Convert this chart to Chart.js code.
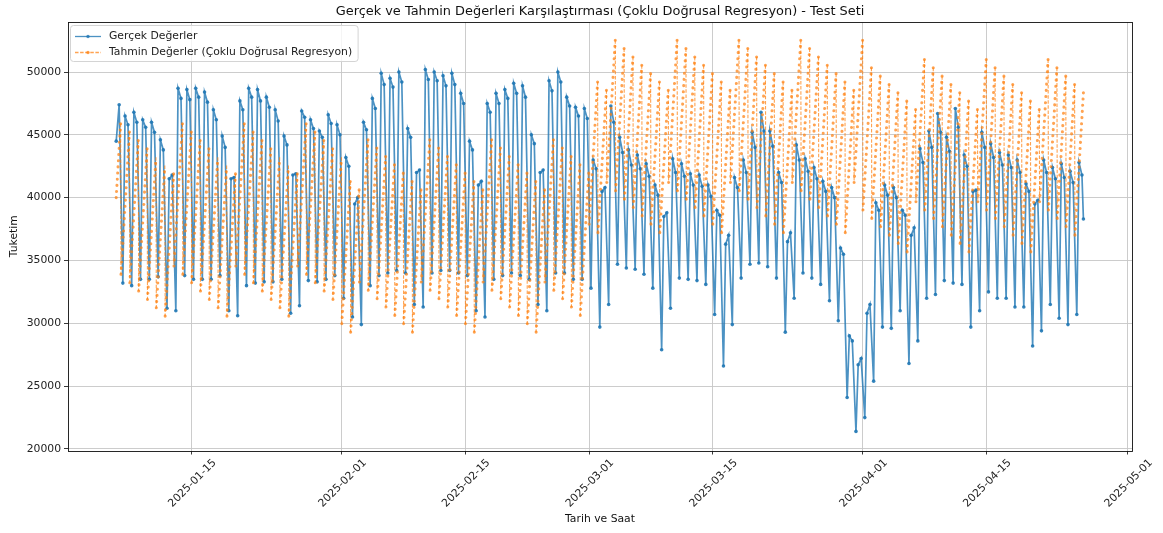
<!DOCTYPE html>
<html lang="tr">
<head>
<meta charset="utf-8">
<title>Gerçek ve Tahmin Değerleri</title>
<script src="https://cdn.jsdelivr.net/npm/chart.js@4.4.1/dist/chart.umd.min.js"></script>
<style>
    html, body { margin: 0; padding: 0; background: #fff; }
    canvas { display: block; }
</style>
</head>
<body>
<canvas id="tuketim_chart" width="1163" height="533"></canvas>
<script>
// test period: 2025-01-06 11:00 .. 2025-04-25 23:00, one row per day
const firstDay = '2025-01-06';
const firstHour = 11;
const lowHour = 5, middayHour = 11, eveningHour = 19;

// actual consumption: early-morning low, midday level, evening level
const actualNightLow = [
    null, 33200, 33000, 33500, 33500, 33700, 31200,
    31000, 33800, 33500, 33500, 33500, 33800, 31000,
    30600, 33000, 33200, 33300, 33300, 33500, 30800,
    31400, 33400, 33300, 33500, 33800, 32000, 30500,
    29900, 33000, 33800, 34000, 34200, 34000, 31500,
    31300, 34000, 34200, 34200, 34000, 33800, 31000,
    30500, 33500, 33800, 34000, 33800, 33500, 31500,
    31000, 34000, 34000, 33500, 33500, 32800, 29700,
    31500, 34700, 34400, 34300, 33900, 32800, 27900,
    31200, 33600, 33500, 33400, 33100, 30700, 26600,
    29900, 33600, 34700, 34800, 34500, 33600, 29300,
    32000, 34000, 33600, 33100, 31800, 30200, 24100,
    21400, 22500, 25400, 29700, 29600, 31000, 26800,
    28600, 32000, 32300, 33400, 33200, 33100, 29700,
    31000, 32500, 32000, 32000, 31300, 31300, 28200,
    29400, 31500, 30400, 29900, 30700
];
const actualMidday = [
    44500, 46500, 46800, 46200, 46000, 44600, 41500,
    48700, 48600, 48700, 48400, 47000, 44900, 41500,
    47700, 48700, 48600, 48000, 47000, 44900, 41800,
    46900, 46200, 45300, 46600, 45800, 43200, 39500,
    46000, 47900, 49900, 49500, 50000, 45500, 42000,
    50200, 50000, 49700, 49900, 48300, 44500, 41000,
    47500, 48300, 48600, 49100, 48900, 45000, 42000,
    49300, 50000, 48000, 47200, 47100, 43000, 40500,
    47300, 44800, 43800, 43400, 42700, 41000, 38500,
    43100, 42700, 41900, 41800, 41000, 39000, 36300,
    41600, 43000, 45200, 46800, 45300, 42000, 36500,
    44200, 43100, 42400, 41300, 40800, 36000, 29000,
    26700, 30800, 39600, 41000, 40800, 39000, 37000,
    43900, 45300, 46700, 44800, 47100, 43400, 40500,
    45200, 44300, 43600, 43400, 43000, 41100, 39500,
    43000, 42400, 42700, 42100, 42800
];
const actualEvening = [
    47400, 45800, 46000, 45600, 45200, 43800, 41800,
    47900, 47800, 48000, 47600, 46200, 44000, 41600,
    47000, 48000, 47700, 47200, 46100, 44200, 41900,
    46400, 45500, 44800, 45900, 45000, 42500, 40000,
    45400, 47100, 49000, 48800, 49200, 44800, 42200,
    49400, 49300, 48900, 49000, 47500, 43800, 41300,
    46800, 47500, 47900, 48300, 48000, 44300, 42200,
    48500, 49200, 47300, 46500, 46300, 42300, 40800,
    46000, 43600, 42600, 42300, 41700, 40200, 38800,
    42000, 41700, 41000, 40900, 40100, 38600, 37000,
    40800, 42000, 44000, 45300, 44100, 41200, 37200,
    43000, 42100, 41500, 40500, 40000, 35500, 28600,
    27200, 31500, 39000, 40200, 40000, 38600, 37600,
    42800, 44000, 45200, 43700, 45600, 42500, 40600,
    44000, 43200, 42600, 42400, 42000, 40500, 39800,
    42000, 41500, 41600, 41200, 41800
];
const actualLastValue = 38300;

// regression output: value at 00:00 and at 23:00 of every day
const forecastDayStart = [
    40000, 33900, 33230, 32570, 31900, 31240, 30570,
    34560, 33900, 33230, 32570, 31900, 31240, 30570,
    34560, 33900, 33230, 32570, 31900, 31240, 30570,
    34560, 33900, 33230, 32570, 31900, 29970, 29300,
    33290, 32630, 31960, 31300, 30630, 29970, 29300,
    33290, 32630, 31960, 31300, 30630, 29970, 29300,
    33290, 32630, 31960, 31300, 30630, 29970, 29300,
    33290, 32630, 31960, 31300, 30630, 37890, 37220,
    41210, 40550, 39880, 39220, 38550, 37890, 37220,
    41210, 40550, 39880, 39220, 38550, 37890, 37220,
    41210, 40550, 39880, 39220, 38550, 37890, 37220,
    41210, 40550, 39880, 39220, 38550, 37890, 37220,
    41210, 39020, 38350, 37690, 37020, 36360, 35690,
    39680, 39020, 38350, 37690, 37020, 36360, 35690,
    39680, 39020, 38350, 37690, 37020, 36360, 35690,
    39680, 39020, 38350, 37690, 37020
];
const forecastDayEnd = [
    45880, 45220, 44550, 43890, 43220, 42560, 41890,
    45880, 45220, 44550, 43890, 43220, 42560, 41890,
    45880, 45220, 44550, 43890, 43220, 42560, 41890,
    45880, 45220, 44550, 43890, 43220, 41290, 40620,
    44610, 43950, 43280, 42620, 41950, 41290, 40620,
    44610, 43950, 43280, 42620, 41950, 41290, 40620,
    44610, 43950, 43280, 42620, 41950, 41290, 40620,
    44610, 43950, 43280, 42620, 41950, 49210, 48540,
    52530, 51870, 51200, 50540, 49870, 49210, 48540,
    52530, 51870, 51200, 50540, 49870, 49210, 48540,
    52530, 51870, 51200, 50540, 49870, 49210, 48540,
    52530, 51870, 51200, 50540, 49870, 49210, 48540,
    52530, 50340, 49670, 49010, 48340, 47680, 47010,
    51000, 50340, 49670, 49010, 48340, 47680, 47010,
    51000, 50340, 49670, 49010, 48340, 47680, 47010,
    51000, 50340, 49670, 49010, 48340
];

const xTickLabels = ['2025-01-15', '2025-02-01', '2025-02-15', '2025-03-01',
    '2025-03-15', '2025-04-01', '2025-04-15', '2025-05-01'];
const yTickValues = [20000, 25000, 30000, 35000, 40000, 45000, 50000];

const HOUR = 3600 * 1000;
const dayZero = Date.parse(firstDay + 'T00:00:00Z');
const at = (day, hour) => dayZero + (day * 24 + hour) * HOUR;

const actualPoints = [];
const forecastPoints = [];
for (let d = 0; d < actualMidday.length; d++) {
    if (actualNightLow[d] !== null) {
        actualPoints.push({x: at(d, lowHour), y: actualNightLow[d]});
    }
    actualPoints.push({x: at(d, d === 0 ? firstHour : middayHour), y: actualMidday[d]});
    actualPoints.push({x: at(d, eveningHour), y: actualEvening[d]});

    forecastPoints.push({x: at(d, d === 0 ? firstHour : 0), y: forecastDayStart[d]});
    forecastPoints.push({x: at(d, 23), y: forecastDayEnd[d]});
}
actualPoints.push({x: at(actualMidday.length - 1, 23), y: actualLastValue});

const FONT = "'DejaVu Sans', 'Liberation Sans', sans-serif";
const BLUE = 'rgba(31, 119, 180, 0.8)';
const ORANGE = 'rgba(255, 127, 14, 0.72)';

// within a day the forecast climbs hour by hour: one dot per hour along the ramp
const isRamp = ctx => ctx.p1.parsed.x - ctx.p0.parsed.x > 2 * HOUR;
const rampDash = ctx => {
    const hours = Math.round((ctx.p1.parsed.x - ctx.p0.parsed.x) / HOUR);
    const len = Math.hypot(ctx.p1.x - ctx.p0.x, ctx.p1.y - ctx.p0.y);
    return [0.01, len / hours - 0.01];
};

const decor = {
    id: 'decor',
    beforeDraw(chart) {
        const ctx = chart.ctx;
        ctx.save();
        ctx.fillStyle = '#fff';
        ctx.fillRect(0, 0, chart.width, chart.height);
        ctx.restore();
    },
    afterDraw(chart) {
        const {ctx, chartArea: a} = chart;
        ctx.save();

        // axes frame
        ctx.strokeStyle = '#111';
        ctx.lineWidth = 0.9;
        ctx.strokeRect(Math.round(a.left) + 0.5, Math.round(a.top) + 0.5,
            Math.round(a.right - a.left), Math.round(a.bottom - a.top));

        // title and axis labels
        ctx.fillStyle = '#111';
        ctx.textAlign = 'center';
        ctx.textBaseline = 'alphabetic';
        ctx.font = `12.9px ${FONT}`;
        ctx.fillText('Gerçek ve Tahmin Değerleri Karşılaştırması (Çoklu Doğrusal Regresyon) - Test Seti',
            (a.left + a.right) / 2, 15);

        ctx.font = `10.8px ${FONT}`;
        ctx.textBaseline = 'middle';
        ctx.fillText('Tarih ve Saat', (a.left + a.right) / 2, 519);
        ctx.save();
        ctx.translate(14, (a.top + a.bottom) / 2);
        ctx.rotate(-Math.PI / 2);
        ctx.fillText('Tuketim', 0, 0);
        ctx.restore();

        // legend
        const items = chart.data.datasets;
        const boxX = 70.5, boxY = 25.5, rowH = 16, textX = 109;
        let textW = 0;
        items.forEach(ds => { textW = Math.max(textW, ctx.measureText(ds.label).width); });
        const boxW = textX + textW + 6 - boxX;
        const boxH = rowH * items.length + 4;
        ctx.beginPath();
        ctx.roundRect(boxX, boxY, boxW, boxH, 3);
        ctx.fillStyle = 'rgba(255, 255, 255, 0.8)';
        ctx.fill();
        ctx.strokeStyle = '#d4d4d4';
        ctx.lineWidth = 1;
        ctx.stroke();

        items.forEach((ds, i) => {
            const y = boxY + 11 + i * rowH;
            ctx.strokeStyle = ds.borderColor;
            ctx.lineWidth = 1.3;
            ctx.setLineDash(i === 0 ? [] : [3.5, 1.6]);
            ctx.beginPath();
            ctx.moveTo(75, y);
            ctx.lineTo(101, y);
            ctx.stroke();
            ctx.setLineDash([]);
            ctx.fillStyle = ds.borderColor;
            ctx.beginPath();
            ctx.arc(88, y, 1.7, 0, Math.PI * 2);
            ctx.fill();
            ctx.fillStyle = '#222';
            ctx.textAlign = 'left';
            ctx.fillText(ds.label, textX, y);
        });

        ctx.restore();
    }
};

new Chart(document.getElementById('tuketim_chart'), {
    type: 'line',
    data: {
        datasets: [{
            label: 'Gerçek Değerler',
            data: actualPoints,
            borderColor: BLUE,
            borderWidth: 1.7,
            pointRadius: 1.8,
            pointBorderWidth: 0,
            pointBackgroundColor: 'rgba(31, 119, 180, 0.9)',
            tension: 0,
            order: 1
        }, {
            label: 'Tahmin Değerler (Çoklu Doğrusal Regresyon)',
            data: forecastPoints,
            borderColor: ORANGE,
            borderWidth: 1.1,
            borderDash: [3.5, 1.6],
            pointRadius: 0,
            tension: 0,
            order: 0,
            segment: {
                borderWidth: ctx => isRamp(ctx) ? 3.1 : 1.1,
                borderCapStyle: ctx => isRamp(ctx) ? 'round' : 'butt',
                borderDash: ctx => isRamp(ctx) ? rampDash(ctx) : [3.5, 1.6]
            }
        }]
    },
    options: {
        responsive: false,
        animation: false,
        devicePixelRatio: 1,
        parsing: false,
        layout: {
            padding: {top: 22, right: 31, bottom: 0, left: 0}
        },
        plugins: {
            legend: {display: false},
            tooltip: {enabled: false}
        },
        scales: {
            x: {
                type: 'linear',
                min: at(-5, 0),
                max: at(115, 11),
                afterBuildTicks: scale => {
                    scale.ticks = xTickLabels.map(s => ({value: Date.parse(s + 'T00:00:00Z')}));
                },
                afterFit: scale => { scale.height = 82.5; },
                grid: {
                    color: '#c6c6c6',
                    lineWidth: 0.9,
                    tickColor: '#222',
                    tickLength: 4,
                    tickWidth: 0.9
                },
                border: {display: false},
                ticks: {
                    autoSkip: false,
                    minRotation: 45,
                    maxRotation: 45,
                    labelOffset: 23,
                    padding: 2,
                    color: '#222',
                    font: {family: FONT, size: 10.8},
                    callback: value => new Date(value).toISOString().slice(0, 10)
                }
            },
            y: {
                min: 19880,
                max: 53980,
                afterBuildTicks: scale => {
                    scale.ticks = yTickValues.map(v => ({value: v}));
                },
                afterFit: scale => { scale.width = 68; },
                grid: {
                    color: '#c6c6c6',
                    lineWidth: 0.9,
                    tickColor: '#222',
                    tickLength: 4,
                    tickWidth: 0.9
                },
                border: {display: false},
                ticks: {
                    padding: 3,
                    color: '#222',
                    font: {family: FONT, size: 10.8},
                    callback: value => String(value)
                }
            }
        }
    },
    plugins: [decor]
});
</script>
</body>
</html>
